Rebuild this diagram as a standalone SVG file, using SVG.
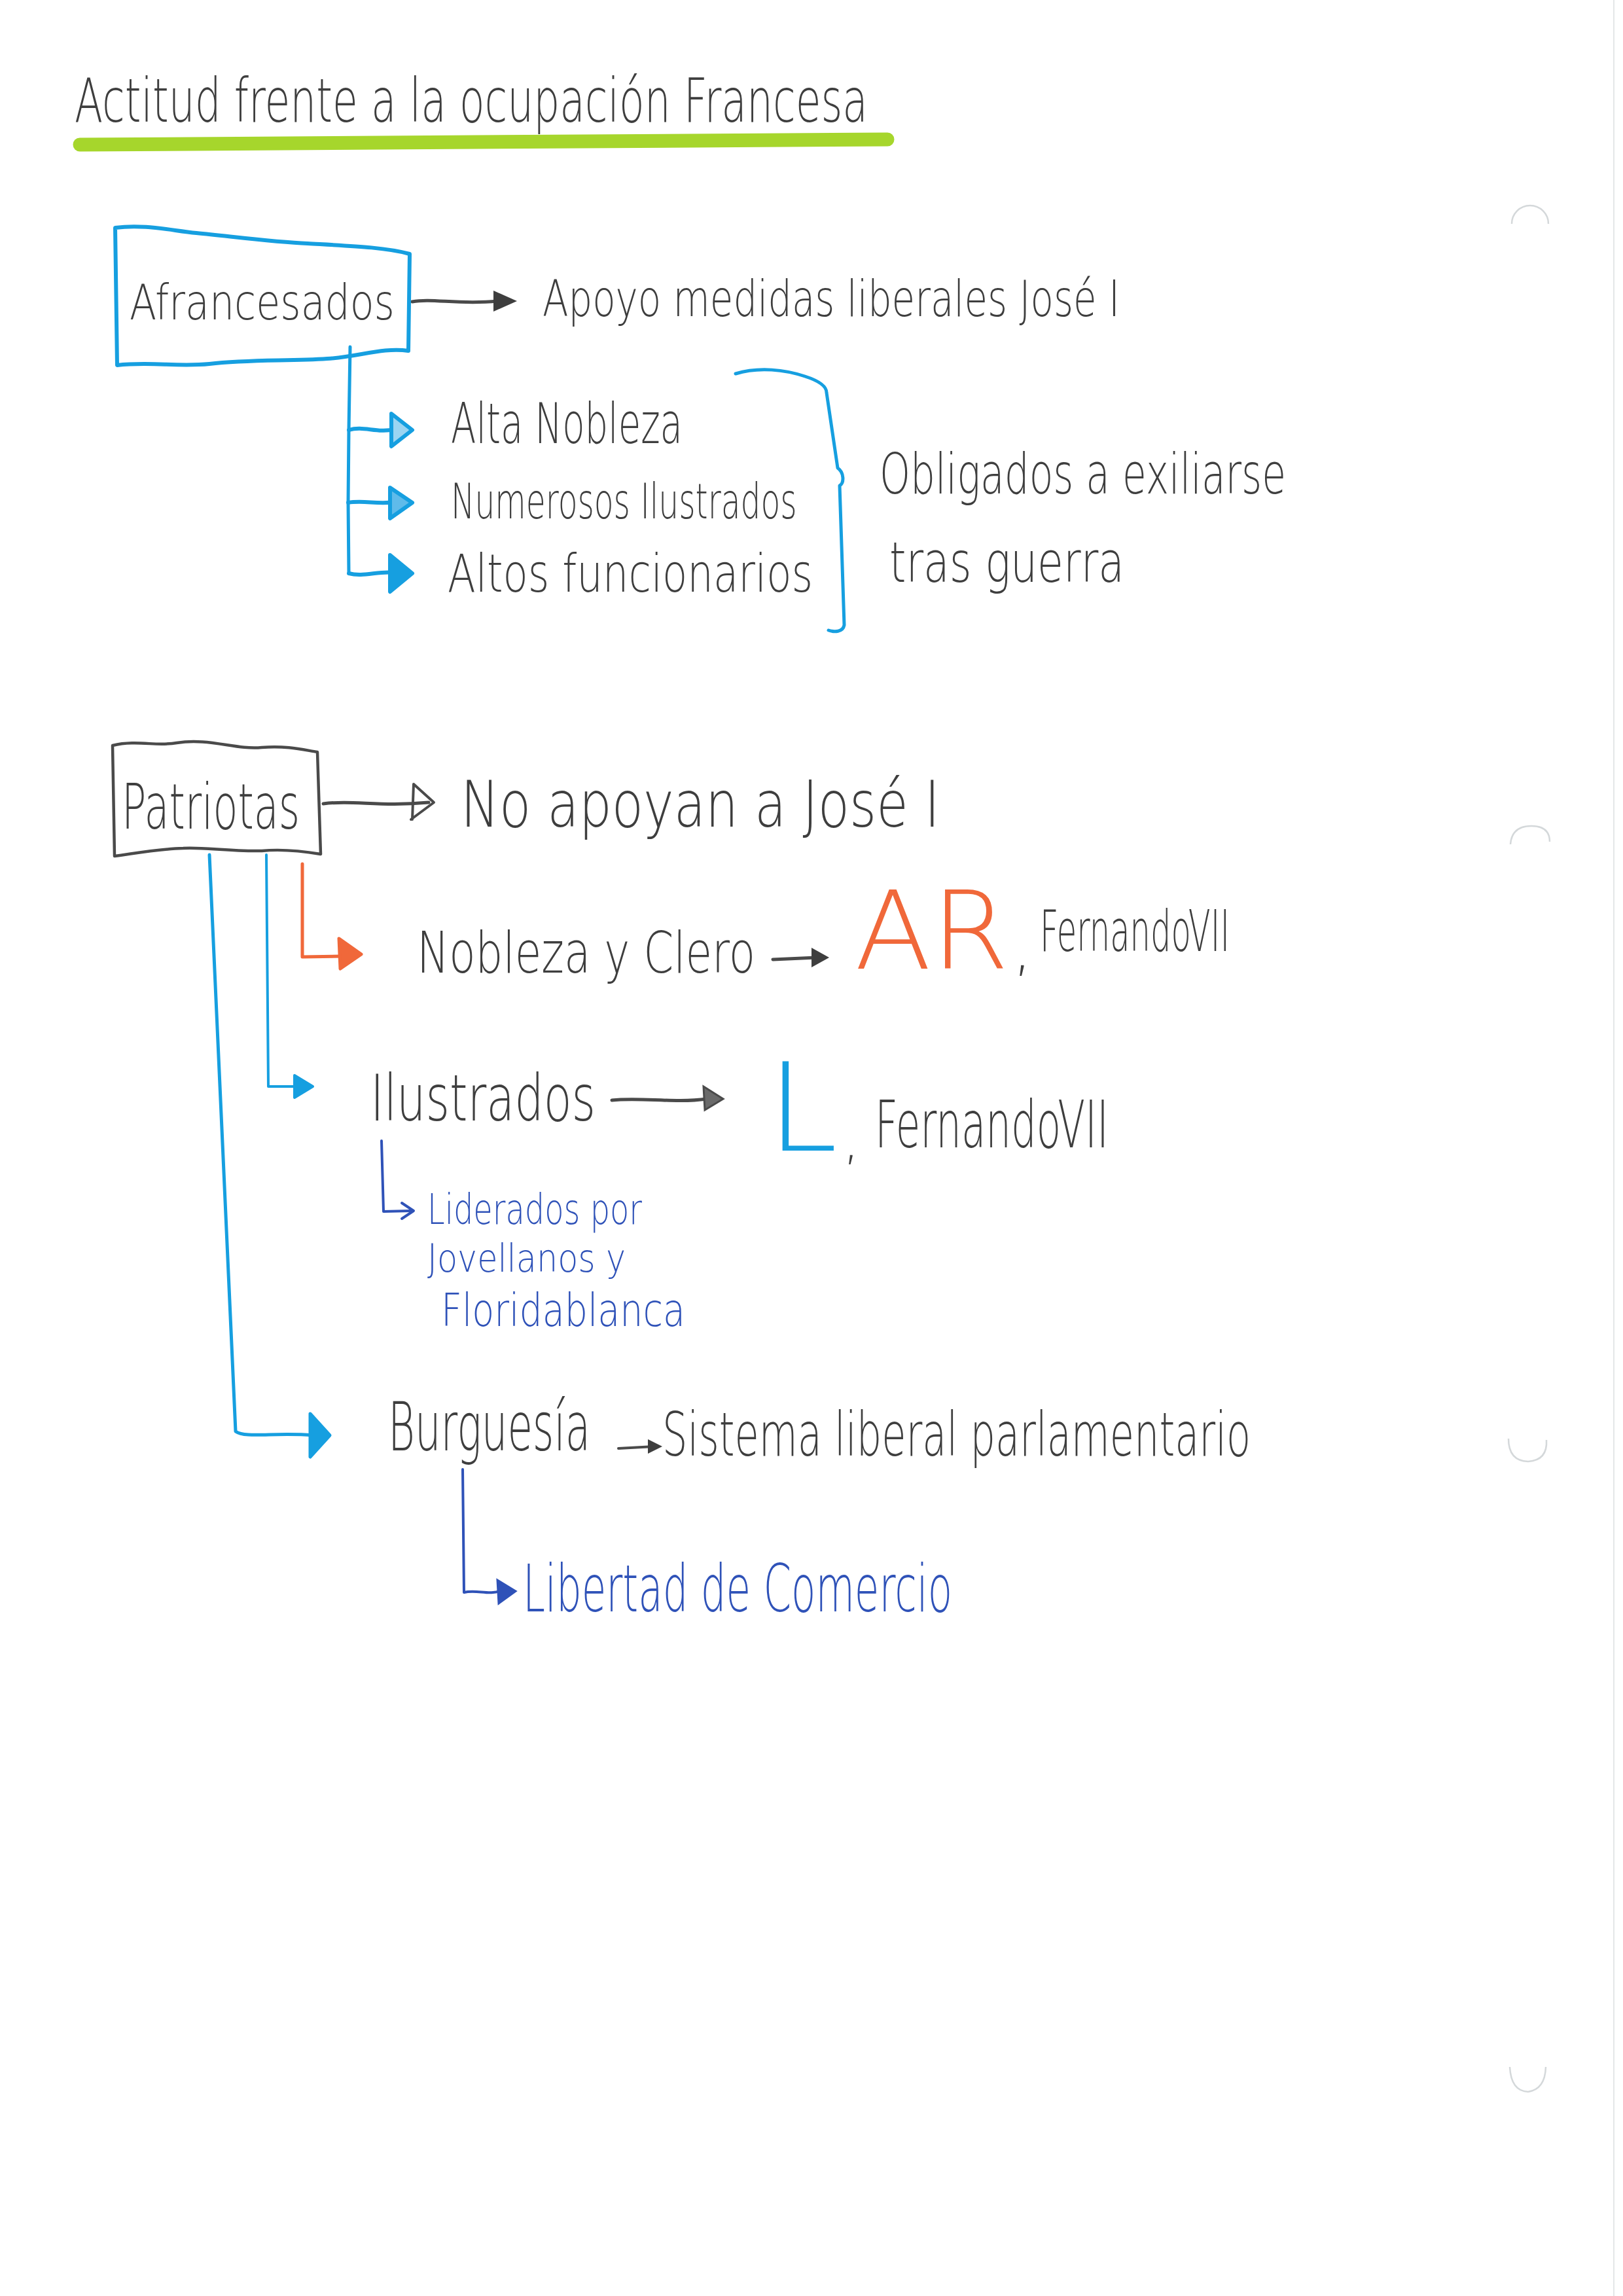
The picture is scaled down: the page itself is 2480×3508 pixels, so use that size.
<svg xmlns="http://www.w3.org/2000/svg" width="2480" height="3508" viewBox="0 0 2480 3508">
<style>
.t{font-family:"DejaVu Sans","Liberation Sans",sans-serif;font-weight:200;}
.g{fill:#3e3e3e;}
.cy{fill:#169fe0;}
.db{fill:#2f52b8;}
.or{fill:#f0683a;}
.lc{fill:none;stroke-linecap:round;stroke-linejoin:round;}
.scy{stroke:#169fe0;}
.sdb{stroke:#2f52b8;}
.sg{stroke:#4a4a4a;}
.sor{stroke:#f0683a;}
.hole{fill:none;stroke:#d4d8da;stroke-width:2.5;}
</style>
<rect x="0" y="0" width="2480" height="3508" fill="#ffffff"/>

<!-- page artefacts -->
<g id="page">
<line x1="2466" y1="0" x2="2466" y2="3508" stroke="#e4e7e8" stroke-width="2"/>
<path class="hole" d="M2310,342 A28,28 0 0 1 2366,342"/>
<path class="hole" d="M2308,1290 Q2310,1262 2340,1262 Q2368,1262 2368,1286"/>
<path class="hole" d="M2305,2198 Q2305,2232 2335,2233 Q2365,2231 2363,2200"/>
<path class="hole" d="M2307,3158 Q2309,3195 2335,3196 Q2361,3192 2362,3158"/>
</g>

<!-- title -->
<g id="title">
<path d="M122,221 L1356,213" stroke="#a6d62c" stroke-width="21" stroke-linecap="round" fill="none"/>
<text class="t g" x="114" y="186" font-size="92" textLength="1212" lengthAdjust="spacingAndGlyphs">Actitud frente a la ocupación Francesa</text>
</g>

<!-- connectors -->
<g id="connectors">
<!-- Afrancesados -> Apoyo -->
<path class="lc sg" stroke-width="5" d="M630,461 C660,455 700,466 760,460"/>
<polygon points="754,444 790,460 754,476" fill="#3e3e3e"/>
<!-- Afrancesados tree -->
<path class="lc scy" stroke-width="5" d="M535,530 L533,657 L532,768 L533,876"/>
<path class="lc scy" stroke-width="6" d="M533,657 C555,650 575,662 603,656"/>
<path class="lc scy" stroke-width="6" d="M532,768 C555,764 578,771 603,767"/>
<path class="lc scy" stroke-width="6" d="M533,876 C555,882 578,872 603,875"/>
<polygon points="598,632 630,657 598,682" fill="#9bd5f2" stroke="#169fe0" stroke-width="6" stroke-linejoin="round"/>
<polygon points="596,745 630,768 596,792" fill="#5fbbea" stroke="#169fe0" stroke-width="6" stroke-linejoin="round"/>
<polygon points="596,848 630,876 596,904" fill="#169fe0" stroke="#169fe0" stroke-width="6" stroke-linejoin="round"/>
<!-- bracket -->
<path class="lc scy" stroke-width="5" d="M1124,571 C1160,560 1200,565 1230,575 C1255,583 1263,592 1263,600 L1280,715 C1290,722 1290,738 1283,742 L1290,955 C1288,966 1275,966 1266,963"/>
<!-- Patriotas -> No apoyan -->
<path class="lc sg" stroke-width="5" d="M494,1228 C540,1222 580,1233 655,1226"/>
<path class="lc sg" stroke-width="4" d="M632,1198 L663,1226 L628,1252 M632,1198 L630,1252"/>
<!-- Patriotas -> Burguesia (cyan) -->
<path class="lc scy" stroke-width="5" d="M320,1306 L360,2187 C375,2198 420,2188 478,2193"/>
<polygon points="474,2160 504,2193 474,2226" fill="#169fe0" stroke="#169fe0" stroke-width="5" stroke-linejoin="round"/>
<!-- Patriotas -> Ilustrados (cyan) -->
<path class="lc scy" stroke-width="4" d="M407,1306 L410,1660 L455,1660"/>
<polygon points="450,1643 478,1660 450,1677" fill="#169fe0" stroke="#169fe0" stroke-width="4" stroke-linejoin="round"/>
<!-- Patriotas -> Nobleza (orange) -->
<path class="lc sor" stroke-width="5" d="M462,1320 L462,1462 L522,1461"/>
<polygon points="518,1434 552,1458 520,1480" fill="#f0683a" stroke="#f0683a" stroke-width="5" stroke-linejoin="round"/>
<!-- Nobleza -> AR -->
<path class="lc sg" stroke-width="5" d="M1181,1466 L1248,1463"/>
<polygon points="1240,1448 1267,1463 1240,1478" fill="#3e3e3e"/>
<!-- Ilustrados -> L -->
<path class="lc sg" stroke-width="5" d="M935,1681 C980,1676 1030,1686 1080,1679"/>
<polygon points="1075,1660 1105,1679 1077,1696" fill="#6a6a6a" stroke="#4a4a4a" stroke-width="3"/>
<!-- Ilustrados -> Liderados -->
<path class="lc sdb" stroke-width="4" d="M583,1743 L586,1851 L628,1850"/>
<path class="lc sdb" stroke-width="4" d="M614,1838 L632,1850 L614,1862"/>
<!-- Burguesia -> Sistema -->
<path class="lc sg" stroke-width="4" d="M945,2213 L1000,2210"/>
<polygon points="990,2199 1012,2210 990,2221" fill="#3e3e3e"/>
<!-- Burguesia -> Libertad -->
<path class="lc sdb" stroke-width="4" d="M707,2245 L709,2433 C728,2428 748,2438 766,2430"/>
<polygon points="760,2414 788,2431 762,2450" fill="#2f52b8" stroke="#2f52b8" stroke-width="3"/>
</g>

<!-- Afrancesados block -->
<g id="afrancesados">
<path class="lc scy" stroke-width="6" d="M176,348 C220,342 260,352 300,356 C360,362 420,370 470,372 C540,376 590,378 626,388 L624,536 C585,530 545,546 500,548 C440,552 380,549 320,556 C270,561 230,552 179,558 Z"/>
<text class="t g" x="198" y="488" font-size="74" textLength="405" lengthAdjust="spacingAndGlyphs">Afrancesados</text>
</g>
<g id="apoyo">
<text class="t g" x="829" y="483" font-size="76" textLength="882" lengthAdjust="spacingAndGlyphs">Apoyo medidas liberales José I</text>
</g>
<g id="alta-nobleza">
<text class="t g" x="689" y="677" font-size="86" textLength="354" lengthAdjust="spacingAndGlyphs">Alta Nobleza</text>
</g>
<g id="numerosos-ilustrados">
<text class="t g" transform="translate(689,792) scale(0.66,1)" x="0" y="0" font-size="74" textLength="801" lengthAdjust="spacingAndGlyphs">Numerosos Ilustrados</text>
</g>
<g id="altos-funcionarios">
<text class="t g" x="684" y="904" font-size="80" textLength="558" lengthAdjust="spacingAndGlyphs">Altos funcionarios</text>
</g>
<g id="obligados">
<text class="t g" x="1344" y="754" font-size="86" textLength="621" lengthAdjust="spacingAndGlyphs">Obligados a exiliarse</text>
<text class="t g" x="1359" y="889" font-size="86" textLength="359" lengthAdjust="spacingAndGlyphs">tras guerra</text>
</g>

<!-- Patriotas block -->
<g id="patriotas">
<path class="lc sg" stroke-width="4.5" d="M172,1139 C210,1130 240,1141 270,1135 C320,1127 360,1146 400,1142 C440,1139 465,1146 485,1149 L490,1305 C460,1300 430,1297 400,1300 C350,1301 310,1294 280,1296 C240,1297 200,1305 175,1308 Z"/>
<text class="t g" x="186" y="1266" font-size="96" textLength="272" lengthAdjust="spacingAndGlyphs">Patriotas</text>
</g>
<g id="no-apoyan">
<text class="t g" x="704" y="1263" font-size="98" textLength="732" lengthAdjust="spacingAndGlyphs">No apoyan a José I</text>
</g>
<g id="nobleza-clero">
<text class="t g" x="637" y="1486" font-size="88" textLength="517" lengthAdjust="spacingAndGlyphs">Nobleza y Clero</text>
</g>
<g id="ar">
<text class="t or" x="1306" y="1480" font-size="165" font-weight="300" textLength="236" lengthAdjust="spacingAndGlyphs">AR</text>
<text class="t g" x="1548" y="1480" font-size="90">,</text>
<text class="t g" x="1589" y="1453" font-size="88" textLength="290" lengthAdjust="spacingAndGlyphs">FernandoVII</text>
</g>
<g id="ilustrados">
<text class="t g" x="566" y="1712" font-size="98" textLength="344" lengthAdjust="spacingAndGlyphs">Ilustrados</text>
</g>
<g id="l-fernando">
<text class="t cy" x="1172" y="1758" font-size="187" font-weight="300" textLength="108" lengthAdjust="spacingAndGlyphs">L</text>
<text class="t g" x="1288" y="1770" font-size="80">,</text>
<text class="t g" x="1337" y="1753" font-size="100" textLength="357" lengthAdjust="spacingAndGlyphs">FernandoVII</text>
</g>
<g id="liderados">
<text class="t db" x="653" y="1870" font-size="64" textLength="328" lengthAdjust="spacingAndGlyphs">Liderados por</text>
<text class="t db" x="653" y="1943" font-size="58" textLength="303" lengthAdjust="spacingAndGlyphs">Jovellanos y</text>
<text class="t db" x="674" y="2026" font-size="70" textLength="373" lengthAdjust="spacingAndGlyphs">Floridablanca</text>
</g>
<g id="burguesia">
<text class="t g" transform="translate(593,2216) scale(0.59,1)" x="0" y="0" font-size="104" textLength="524" lengthAdjust="spacingAndGlyphs">Burguesía</text>
</g>
<g id="sistema">
<text class="t g" x="1012" y="2224" font-size="92" textLength="899" lengthAdjust="spacingAndGlyphs">Sistema liberal parlamentario</text>
</g>
<g id="libertad">
<text class="t db" x="799" y="2462" font-size="100" textLength="656" lengthAdjust="spacingAndGlyphs">Libertad de Comercio</text>
</g>
</svg>
